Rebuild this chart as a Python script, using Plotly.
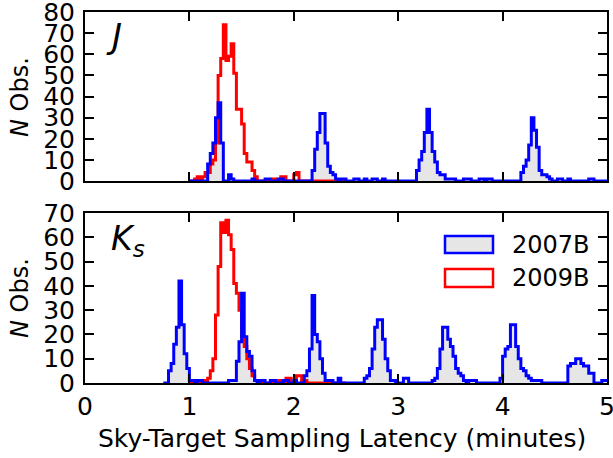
import plotly.graph_objects as go

# ---------------- data (histogram counts, bin width 0.025 min) ----------------
BIN_WIDTH = 0.025
x_ticks = [0, 1, 2, 3, 4, 5]
x_tick_text = ["0", "1", "2", "3", "4", "5"]
j_y_ticks = [0, 10, 20, 30, 40, 50, 60, 70, 80]
ks_y_ticks = [0, 10, 20, 30, 40, 50, 60, 70]
series_names = ["2007B", "2009B"]

# J band, 2007B: bins 40..199
j_2007b_start = 40
j_2007b_counts = [
    0, 0, 0, 0, 0, 0, 0, 8, 13, 18, 30, 37, 18, 0, 0, 3, 1, 0, 0, 0,
    0, 0, 0, 0, 1, 0, 0, 0, 0, 1, 1, 0, 0, 0, 1, 1, 0, 0, 0, 0,
    0, 0, 0, 0, 0, 0, 0, 5, 15, 23, 32, 32, 18, 7, 4, 3, 1, 0, 1, 1,
    0, 0, 0, 1, 1, 0, 0, 1, 0, 0, 1, 1, 0, 0, 1, 0, 0, 0, 0, 0,
    0, 0, 0, 0, 0, 0, 0, 5, 10, 14, 23, 34, 23, 14, 9, 4, 3, 3, 1, 1,
    1, 1, 0, 0, 0, 1, 1, 1, 0, 0, 0, 1, 1, 0, 1, 1, 0, 0, 0, 0,
    0, 0, 0, 0, 0, 0, 0, 4, 7, 10, 17, 30, 24, 16, 5, 3, 3, 2, 1, 0,
    0, 1, 1, 0, 0, 1, 0, 0, 0, 0, 0, 0, 0, 1, 1, 0, 0, 0, 0, 0,
]
# J band, 2009B: bins 40..99
j_2009b_start = 40
j_2009b_counts = [
    0, 0, 1, 2, 1, 2, 4, 4, 8, 10, 18, 50, 58, 74, 57, 59, 65, 51, 34, 34,
    27, 13, 9, 9, 5, 2, 0, 0, 0, 0, 0, 0, 1, 0, 0, 2, 2, 0, 0, 0,
    3, 4, 0, 0, 0, 0, 0, 0, 0, 0, 0, 0, 0, 0, 0, 0, 0, 0, 0, 0,
]
# Ks band, 2007B: bins 30..199
ks_2007b_start = 30
ks_2007b_counts = [
    0, 0, 5, 8, 16, 23, 42, 24, 12, 6,
    1, 1, 0, 1, 1, 0, 0, 0, 0, 0, 0, 0, 0, 0, 0, 1, 1, 1, 9, 17,
    37, 19, 13, 11, 5, 1, 0, 1, 1, 0, 0, 1, 1, 0, 0, 0, 1, 1, 0, 0,
    1, 0, 0, 0, 3, 5, 14, 36, 20, 17, 10, 4, 1, 1, 1, 0, 0, 2, 0, 0,
    0, 0, 0, 0, 0, 0, 0, 2, 3, 6, 14, 23, 26, 26, 18, 10, 5, 1, 1, 0,
    0, 0, 2, 2, 0, 0, 0, 0, 0, 0, 0, 0, 0, 1, 2, 6, 14, 23, 23, 18,
    15, 11, 6, 4, 3, 1, 0, 1, 1, 1, 0, 0, 0, 0, 0, 0, 0, 0, 0, 2,
    11, 14, 15, 24, 24, 15, 10, 6, 5, 3, 2, 1, 1, 1, 1, 0, 0, 0, 0, 0,
    0, 0, 0, 0, 0, 7, 8, 8, 10, 10, 8, 7, 7, 4, 4, 0, 0, 0, 1, 1,
]
# Ks band, 2009B: bins 40..99
ks_2009b_start = 40
ks_2009b_counts = [
    0, 0, 0, 1, 0, 1, 1, 2, 5, 10, 28, 48, 66, 62, 67, 61, 55, 41, 37, 30,
    19, 15, 10, 6, 3, 1, 0, 0, 0, 0, 0, 0, 0, 0, 1, 1, 0, 2, 2, 0,
    0, 3, 3, 0, 1, 0, 0, 0, 0, 0, 0, 0, 0, 0, 0, 0, 0, 0, 0, 0,
]

BLUE = "#0000ff"
RED = "#ff0000"
FILL = "#e6e6e6"
W, H = 613, 458
FS = 25


def step_xy(start, counts):
    xs = [(start + k) * BIN_WIDTH for k in range(len(counts) + 1)]
    ys = list(counts) + [counts[-1]]
    return xs, ys


fig = go.Figure()


def add_panel(xa, ya, blue, red):
    bx, by = step_xy(*blue)
    rx, ry = step_xy(*red)
    fig.add_trace(go.Scatter(x=bx, y=by, xaxis=xa, yaxis=ya, mode="lines",
                             line=dict(shape="hv", width=0, color=BLUE),
                             fill="tozeroy", fillcolor=FILL,
                             showlegend=False, hoverinfo="skip"))
    fig.add_trace(go.Scatter(x=rx, y=ry, xaxis=xa, yaxis=ya, mode="lines",
                             line=dict(shape="hv", width=3, color=RED),
                             name=series_names[1], showlegend=False))
    fig.add_trace(go.Scatter(x=bx, y=by, xaxis=xa, yaxis=ya, mode="lines",
                             line=dict(shape="hv", width=3, color=BLUE),
                             name=series_names[0], showlegend=False))


add_panel("x2", "y2", (j_2007b_start, j_2007b_counts), (j_2009b_start, j_2009b_counts))
add_panel("x", "y", (ks_2007b_start, ks_2007b_counts), (ks_2009b_start, ks_2009b_counts))

x_dom = [85 / W, 607 / W]
top_dom = [1 - 181 / H, 1 - 12 / H]
bot_dom = [1 - 383 / H, 1 - 213 / H]

axis_common = dict(showline=True, linewidth=2, linecolor="black", mirror="allticks",
                   ticks="inside", ticklen=9, tickwidth=1.5, tickcolor="black",
                   showgrid=False, zeroline=False, automargin=False,
                   ticklabeloverflow="allow",
                   tickfont=dict(family="DejaVu Sans", size=FS, color="black"))

fig.update_layout(
    width=W, height=H,
    margin=dict(l=0, r=0, t=0, b=0),
    paper_bgcolor="white", plot_bgcolor="white",
    font=dict(family="DejaVu Sans", size=FS, color="black"),
    showlegend=False,
    xaxis=dict(domain=x_dom, anchor="y", range=[0, 5], tickvals=x_ticks,
               ticktext=x_tick_text, ticklabelstandoff=0, **axis_common),
    yaxis=dict(domain=bot_dom, anchor="x", range=[0, 70], tickvals=ks_y_ticks,
               ticklabelstandoff=3, **axis_common),
    xaxis2=dict(domain=x_dom, anchor="y2", range=[0, 5], tickvals=x_ticks,
                showticklabels=False, **axis_common),
    yaxis2=dict(domain=top_dom, anchor="x2", range=[0, 80], tickvals=j_y_ticks,
                ticklabelstandoff=3, **axis_common),
)

ann = []
ann.append(dict(text="Sky-Target Sampling Latency (minutes)", x=(85 + 600) / 2 / W, y=1 - 438 / H,
                xref="paper", yref="paper", showarrow=False, xanchor="center", yanchor="middle",
                font=dict(size=FS)))
for cy in (97, 298):
    ann.append(dict(text="<i>N</i> Obs.", x=20 / W, y=1 - cy / H, xref="paper", yref="paper",
                    showarrow=False, textangle=-90, xanchor="center", yanchor="middle",
                    font=dict(size=FS - 1)))
ann.append(dict(text="<i>J</i>", x=104 / W, y=1 - 36 / H, xref="paper", yref="paper",
                showarrow=False, xanchor="left", yanchor="middle", font=dict(size=34)))
ann.append(dict(text="<i>K<sub>s</sub></i>", x=109 / W, y=1 - 241 / H, xref="paper", yref="paper",
                showarrow=False, xanchor="left", yanchor="middle", font=dict(size=33)))
ann.append(dict(text=series_names[0], x=510 / W, y=1 - 245 / H, xref="paper", yref="paper",
                showarrow=False, xanchor="left", yanchor="middle", font=dict(size=FS - 1)))
ann.append(dict(text=series_names[1], x=510 / W, y=1 - 278 / H, xref="paper", yref="paper",
                showarrow=False, xanchor="left", yanchor="middle", font=dict(size=FS - 1)))
fig.update_layout(annotations=ann)

fig.add_shape(type="rect", xref="paper", yref="paper",
              x0=445 / W, x1=493 / W, y0=1 - 253 / H, y1=1 - 236 / H,
              fillcolor=FILL, line=dict(color=BLUE, width=2.5))
fig.add_shape(type="rect", xref="paper", yref="paper",
              x0=445 / W, x1=493 / W, y0=1 - 287 / H, y1=1 - 269 / H,
              fillcolor="white", line=dict(color=RED, width=2.5))

fig.write_html("out.html")
